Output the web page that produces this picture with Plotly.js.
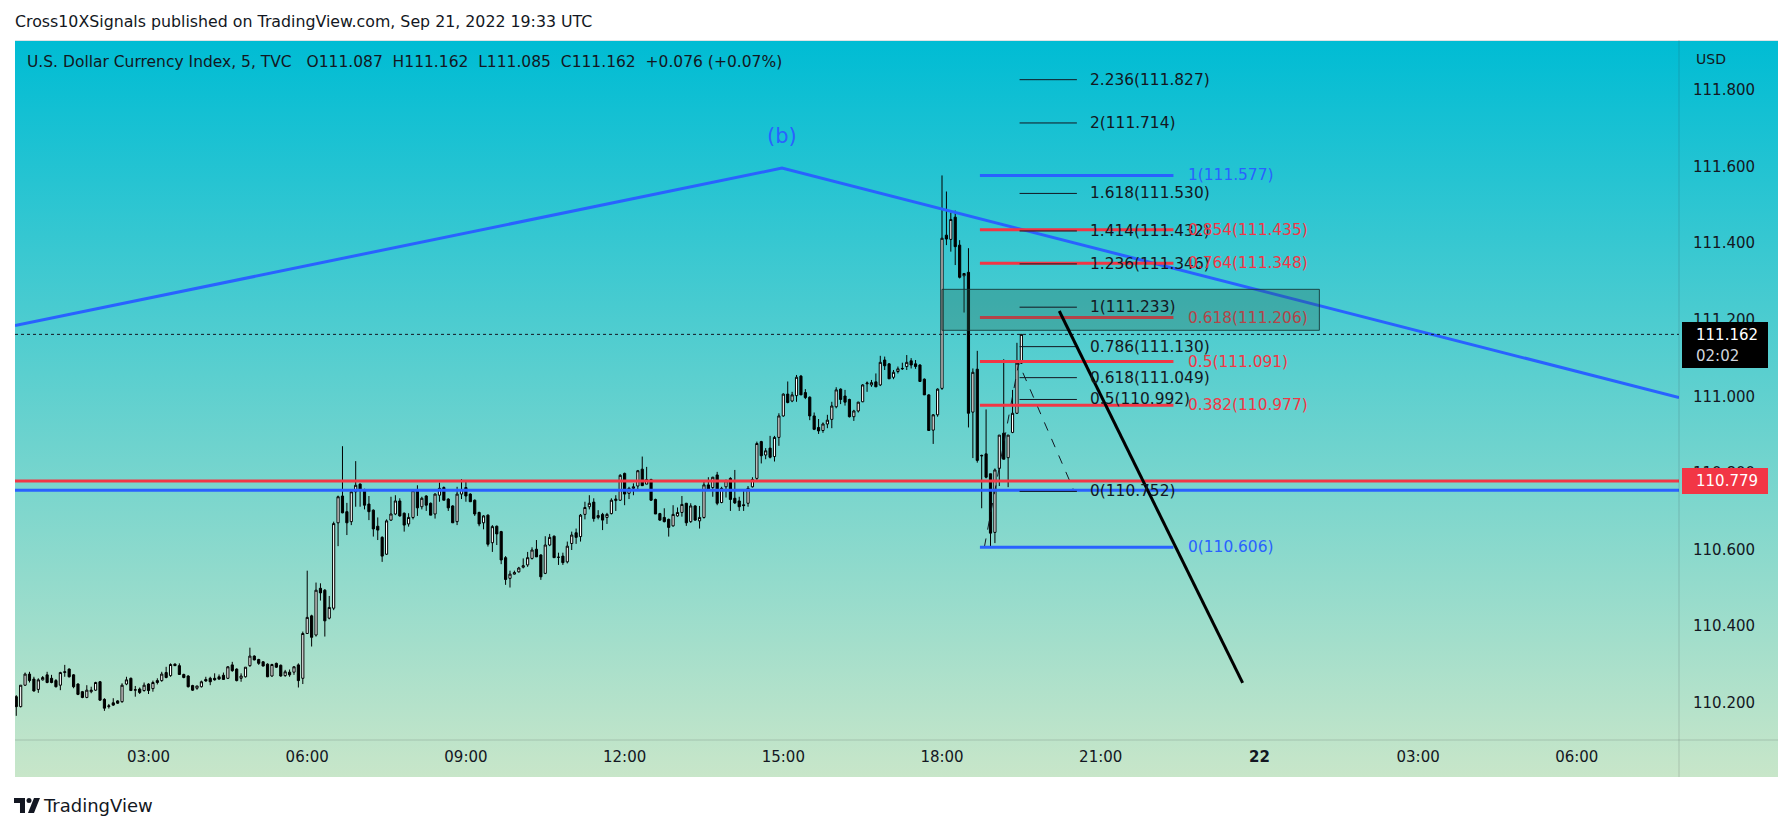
<!DOCTYPE html>
<html><head><meta charset="utf-8">
<script src="https://cdn.plot.ly/plotly-3.0.1.min.js"></script>
<style>
html,body{margin:0;padding:0;background:#fff;width:1791px;height:832px;overflow:hidden;}
#bg{position:absolute;left:15px;top:40px;width:1763px;height:737px;background:linear-gradient(to bottom,#00BCD4 0%,#C8E6C9 100%);border-top:1px solid #dfe3e6;box-sizing:border-box;}
#chart{position:absolute;left:0;top:0;width:1791px;height:832px;}
</style></head><body>
<div id="bg"></div><div id="chart"></div>
<script>
// ---------------- DATA ----------------
const open = [
110.216,110.190,110.246,110.275,110.262,110.235,110.260,110.273,110.264,110.258,
110.246,110.279,110.288,110.273,110.249,110.229,110.214,110.229,110.233,110.255,
110.209,110.190,110.200,110.205,110.203,110.249,110.264,110.233,110.236,110.232,
110.249,110.237,110.258,110.258,110.279,110.271,110.301,110.297,110.274,110.270,
110.245,110.238,110.242,110.261,110.264,110.264,110.268,110.272,110.264,110.299,
110.288,110.264,110.268,110.297,110.322,110.313,110.307,110.301,110.270,110.303,
110.298,110.271,110.280,110.280,110.299,110.264,
110.381,110.427,110.377,110.499,
110.494,110.421,110.447,110.670,110.740,110.699,110.673,110.751,110.771,110.757,
110.719,110.703,110.661,110.632,110.588,110.677,110.693,110.727,110.695,110.667,
110.684,110.757,110.712,110.740,110.721,110.693,110.742,110.762,110.732,110.714,
110.673,110.745,110.762,110.745,110.729,110.697,110.670,110.690,110.618,110.661,
110.647,110.579,110.525,110.536,110.542,110.554,110.560,110.577,110.601,110.586,
110.538,110.612,110.635,110.580,110.583,110.568,110.616,110.644,110.634,110.692,
110.712,110.724,110.684,110.692,110.684,110.694,110.728,110.729,110.799,110.747,
110.760,110.766,110.810,110.771,110.783,110.731,110.694,110.684,110.679,110.662,
110.688,110.697,110.721,110.673,110.714,110.675,110.684,110.769,110.762,110.795,
110.723,110.764,110.786,110.734,110.727,110.717,110.721,110.764,110.786,110.882,
110.847,110.865,110.843,110.893,110.949,111.006,110.988,111.002,111.053,111.010,
110.998,110.949,110.919,110.911,110.928,110.940,110.973,111.019,111.001,110.992,
110.947,110.962,110.986,111.033,111.030,111.038,111.030,111.095,111.085,111.050,
111.065,111.072,111.078,111.093,111.085,111.082,111.045,111.004,110.912,110.952,
111.021,111.421,111.410,111.468,111.395,111.315,111.324,110.959,111.071,110.846,
110.850,110.798,110.645,110.812,110.904,110.840,110.906,110.956,111.087];
const high = [
110.220,110.246,110.279,110.281,110.268,110.264,110.270,110.281,110.273,110.262,
110.281,110.299,110.290,110.275,110.251,110.231,110.246,110.242,110.255,110.257,
110.212,110.197,110.212,110.207,110.251,110.268,110.266,110.244,110.240,110.253,
110.251,110.258,110.264,110.281,110.294,110.303,110.303,110.303,110.276,110.272,
110.247,110.244,110.258,110.268,110.268,110.277,110.274,110.279,110.296,110.307,
110.290,110.277,110.293,110.344,110.324,110.315,110.309,110.303,110.302,110.305,
110.300,110.286,110.287,110.296,110.303,110.386,
110.545,110.430,110.514,110.512,
110.497,110.479,110.673,110.741,110.870,110.722,110.754,110.831,110.773,110.759,
110.740,110.705,110.684,110.635,110.679,110.738,110.742,110.734,110.697,110.695,
110.756,110.768,110.738,110.742,110.723,110.747,110.775,110.765,110.734,110.716,
110.764,110.784,110.780,110.747,110.731,110.699,110.690,110.692,110.664,110.663,
110.649,110.583,110.545,110.545,110.555,110.577,110.594,110.606,110.625,110.588,
110.635,110.641,110.637,110.592,110.592,110.621,110.647,110.655,110.693,110.725,
110.742,110.734,110.703,110.696,110.696,110.734,110.742,110.797,110.801,110.764,
110.773,110.808,110.843,110.816,110.785,110.733,110.696,110.708,110.681,110.716,
110.710,110.740,110.722,110.721,110.716,110.714,110.780,110.789,110.790,110.803,
110.764,110.783,110.789,110.808,110.738,110.754,110.766,110.789,110.882,110.884,
110.865,110.897,110.897,110.956,111.008,111.039,111.012,111.056,111.056,111.019,
111.000,110.958,110.941,110.932,110.952,110.986,111.024,111.021,111.017,110.994,
110.965,110.986,111.032,111.039,111.043,111.060,111.106,111.104,111.087,111.069,
111.078,111.088,111.108,111.100,111.095,111.084,111.047,111.006,110.954,111.021,
111.577,111.535,111.480,111.485,111.408,111.321,111.387,111.073,111.119,110.848,
110.966,110.798,110.812,110.899,111.097,110.899,111.017,111.140,111.162];
const low = [
110.166,110.188,110.244,110.253,110.229,110.226,110.258,110.251,110.251,110.240,
110.233,110.268,110.266,110.238,110.220,110.212,110.212,110.225,110.231,110.205,
110.179,110.185,110.192,110.197,110.200,110.246,110.231,110.216,110.223,110.229,
110.223,110.229,110.248,110.255,110.264,110.268,110.296,110.273,110.264,110.240,
110.231,110.234,110.240,110.255,110.246,110.258,110.260,110.260,110.262,110.281,
110.256,110.255,110.266,110.294,110.311,110.299,110.295,110.267,110.268,110.291,
110.268,110.268,110.268,110.273,110.240,110.249,
110.380,110.347,110.373,110.467,
110.373,110.418,110.442,110.609,110.695,110.638,110.664,110.712,110.712,110.705,
110.677,110.634,110.625,110.568,110.586,110.675,110.690,110.686,110.647,110.660,
110.679,110.688,110.705,110.701,110.690,110.681,110.725,110.729,110.701,110.670,
110.664,110.732,110.725,110.725,110.688,110.661,110.653,110.608,110.594,110.612,
110.562,110.508,110.501,110.535,110.540,110.551,110.555,110.574,110.581,110.521,
110.536,110.609,110.579,110.560,110.560,110.564,110.599,110.615,110.621,110.679,
110.705,110.673,110.679,110.651,110.667,110.692,110.701,110.727,110.716,110.732,
110.742,110.754,110.766,110.771,110.727,110.693,110.675,110.671,110.634,110.660,
110.686,110.686,110.662,110.670,110.675,110.655,110.681,110.755,110.738,110.716,
110.721,110.736,110.701,110.719,110.701,110.701,110.712,110.762,110.777,110.825,
110.836,110.838,110.830,110.871,110.947,110.982,110.985,110.986,111.004,110.993,
110.938,110.912,110.902,110.905,110.917,110.917,110.969,110.980,110.976,110.945,
110.936,110.958,110.985,111.012,111.025,111.025,111.027,111.069,111.046,111.045,
111.060,111.069,111.069,111.073,111.072,111.039,111.004,110.911,110.876,110.947,
111.017,111.395,111.378,111.343,111.308,111.219,110.919,110.839,110.827,110.708,
110.786,110.606,110.617,110.766,110.836,110.763,110.904,110.954,111.085];
const close = [
110.190,110.246,110.275,110.258,110.231,110.260,110.266,110.253,110.253,110.242,
110.279,110.281,110.268,110.242,110.222,110.214,110.233,110.233,110.253,110.207,
110.186,110.192,110.194,110.199,110.246,110.260,110.232,110.234,110.227,110.246,
110.232,110.253,110.253,110.275,110.266,110.300,110.297,110.274,110.266,110.242,
110.233,110.244,110.255,110.257,110.255,110.260,110.262,110.261,110.294,110.284,
110.258,110.270,110.293,110.322,110.312,110.303,110.296,110.268,110.300,110.293,
110.270,110.281,110.273,110.294,110.258,110.381,
110.423,110.371,110.494,110.487,
110.414,110.449,110.668,110.738,110.696,110.670,110.751,110.768,110.754,110.716,
110.699,110.654,110.651,110.583,110.675,110.693,110.727,110.688,110.664,110.684,
110.754,110.709,110.734,110.716,110.690,110.745,110.760,110.729,110.709,110.670,
110.745,110.757,110.740,110.725,110.693,110.667,110.688,110.614,110.660,110.641,
110.573,110.522,110.536,110.540,110.552,110.558,110.579,110.599,110.581,110.529,
110.612,110.632,110.579,110.580,110.566,110.609,110.638,110.632,110.690,110.710,
110.721,110.681,110.689,110.677,110.692,110.729,110.732,110.794,110.745,110.760,
110.764,110.806,110.767,110.783,110.729,110.693,110.677,110.673,110.658,110.692,
110.697,110.718,110.670,110.714,110.677,110.684,110.769,110.757,110.789,110.721,
110.760,110.780,110.731,110.722,110.712,110.715,110.760,110.783,110.877,110.845,
110.858,110.841,110.893,110.949,111.006,110.984,111.004,111.050,111.004,110.997,
110.949,110.914,110.910,110.928,110.938,110.975,111.017,110.992,110.985,110.947,
110.962,110.985,111.030,111.035,111.036,111.025,111.089,111.080,111.046,111.063,
111.072,111.073,111.089,111.082,111.078,111.039,111.004,110.911,110.952,111.019,
111.413,111.411,111.462,111.391,111.311,111.321,110.956,111.063,110.833,110.845,
110.789,110.643,110.808,110.899,110.836,110.899,110.956,111.087,111.162];

const firstBar = Date.UTC(2022, 8, 21, 0, 30);   // 5-minute bars
const barMinutes = 5;

const xTickVals = ['2022-09-21 03:00','2022-09-21 06:00','2022-09-21 09:00','2022-09-21 12:00','2022-09-21 15:00',
                   '2022-09-21 18:00','2022-09-21 21:00','2022-09-22 00:00','2022-09-22 03:00','2022-09-22 06:00'];
const xTickText = ['03:00','06:00','09:00','12:00','15:00','18:00','21:00','<b>22</b>','03:00','06:00'];
const yTickVals = [110.2,110.4,110.6,110.8,111.0,111.2,111.4,111.6,111.8];

const fibExtRatios = ['2.236','2','1.618','1.414','1.236','1','0.786','0.618','0.5','0'];
const fibExtPrices = [111.827,111.714,111.530,111.432,111.346,111.233,111.130,111.049,110.992,110.752];
const redFibRatios = ['0.854','0.764','0.618','0.5','0.382'];
const redFibPrices = [111.435,111.348,111.206,111.091,110.977];
const blueFibRatios = ['1','0'];
const blueFibPrices = [111.577,110.606];

const waveX = ['2022-09-21 00:28:34','2022-09-21 14:58:30','2022-09-22 07:55:55'];
const waveY = [111.185,111.596,110.997];
const fibPathX = ['2022-09-21 18:48','2022-09-21 19:27','2022-09-21 20:30'];
const fibPathY = [110.606,111.087,110.752];
const trendX = ['2022-09-21 20:13','2022-09-21 23:41'];
const trendY = [111.223,110.252];
const zoneX = ['2022-09-21 18:00','2022-09-22 01:08'];
const zoneY = [111.1726,111.2796];
const supportRed = 110.779;
const supportBlue = 110.755;
const lastPrice = 111.162;

const headerText = 'Cross10XSignals published on TradingView.com, Sep 21, 2022 19:33 UTC';
const legendText = 'U.S. Dollar Currency Index, 5, TVC\u00a0\u00a0\u00a0O111.087\u00a0\u00a0H111.162\u00a0\u00a0L111.085\u00a0\u00a0C111.162\u00a0\u00a0+0.076 (+0.07%)';

// ---------------- LAYOUT HELPERS ----------------
const W = 1791, H = 832, ML = 15, MR = 112, MT = 40, MB = 92;
const PW = W - ML - MR, PH = H - MT - MB;
const px = x => (x - ML) / PW;
const py = y => (H - MB - y) / PH;
const FONT = 'DejaVu Sans, sans-serif';
const TXT = '#131722';
const BLUE = '#2962FF', RED = '#F23645';
const xRange = ['2022-09-21 00:28:34', '2022-09-22 07:55:55'];

function fmt(ms) {
  const d = new Date(ms), p = n => String(n).padStart(2, '0');
  return d.getUTCFullYear() + '-' + p(d.getUTCMonth() + 1) + '-' + p(d.getUTCDate()) + ' ' + p(d.getUTCHours()) + ':' + p(d.getUTCMinutes());
}
const times = close.map((_, i) => fmt(firstBar + i * barMinutes * 60000));

// ---------------- TRACES ----------------
const data = [
  {type: 'candlestick', x: times, open: open, high: high, low: low, close: close,
   increasing: {line: {color: '#000000', width: 1}, fillcolor: '#ffffff'},
   decreasing: {line: {color: '#000000', width: 1}, fillcolor: '#000000'},
   whiskerwidth: 0, hoverinfo: 'skip', showlegend: false},
  {type: 'scatter', mode: 'lines', x: waveX, y: waveY, line: {color: BLUE, width: 3}, hoverinfo: 'skip', showlegend: false},
  {type: 'scatter', mode: 'lines', x: fibPathX, y: fibPathY, line: {color: '#131722', width: 1, dash: 'dash'}, hoverinfo: 'skip', showlegend: false}
];

// ---------------- SHAPES ----------------
const shapes = [];
const hline = (y, color, width, dash) => ({type: 'line', xref: 'x', yref: 'y', x0: xRange[0], x1: xRange[1], y0: y, y1: y,
  line: {color: color, width: width, dash: dash || 'solid'}, layer: 'above'});
shapes.push(hline(supportBlue, BLUE, 3));
shapes.push(hline(supportRed, RED, 3));
shapes.push(hline(lastPrice, '#131722', 1, 'dot'));

const fibLineX = ['2022-09-21 18:43', '2022-09-21 22:22:30'];
const fibExtLineX = ['2022-09-21 19:28', '2022-09-21 20:33'];
const fibExtLabelX = '2022-09-21 20:46';
const fibLabelX = '2022-09-21 22:37';

blueFibPrices.forEach(p => shapes.push({type: 'line', xref: 'x', yref: 'y', x0: fibLineX[0], x1: fibLineX[1], y0: p, y1: p, line: {color: BLUE, width: 3}, layer: 'above'}));
redFibPrices.forEach(p => shapes.push({type: 'line', xref: 'x', yref: 'y', x0: fibLineX[0], x1: fibLineX[1], y0: p, y1: p, line: {color: RED, width: 3}, layer: 'above'}));
shapes.push({type: 'rect', xref: 'x', yref: 'y', x0: zoneX[0], x1: zoneX[1], y0: zoneY[0], y1: zoneY[1],
  fillcolor: 'rgba(40,100,80,0.3)', line: {color: 'rgba(20,50,50,0.85)', width: 1}, layer: 'above'});
fibExtPrices.forEach(p => shapes.push({type: 'line', xref: 'x', yref: 'y', x0: fibExtLineX[0], x1: fibExtLineX[1], y0: p, y1: p, line: {color: '#131722', width: 1}, layer: 'above'}));
shapes.push({type: 'line', xref: 'x', yref: 'y', x0: trendX[0], x1: trendX[1], y0: trendY[0], y1: trendY[1], line: {color: '#000000', width: 3}, layer: 'above'});

// axis separators
shapes.push({type: 'line', xref: 'paper', yref: 'paper', x0: 1, x1: 1, y0: py(777), y1: 1, line: {color: 'rgba(42,46,57,0.18)', width: 1}, layer: 'above'});
shapes.push({type: 'line', xref: 'paper', yref: 'paper', x0: 0, x1: px(1778), y0: 0, y1: 0, line: {color: 'rgba(42,46,57,0.18)', width: 1}, layer: 'above'});
// price labels boxes
shapes.push({type: 'rect', xref: 'paper', yref: 'paper', x0: px(1682), x1: px(1768), y0: py(368), y1: py(322), fillcolor: '#000000', line: {width: 0}, layer: 'above'});
shapes.push({type: 'rect', xref: 'paper', yref: 'paper', x0: px(1682), x1: px(1768), y0: py(494), y1: py(468), fillcolor: RED, line: {width: 0}, layer: 'above'});
// TradingView logo
const pathPx = pts => 'M' + pts.map(p => px(p[0]).toFixed(5) + ',' + py(p[1]).toFixed(5)).join(' L') + ' Z';
shapes.push({type: 'path', xref: 'paper', yref: 'paper', path: pathPx([[14,798],[25,798],[25,813],[20,813],[20,803],[14,803]]), fillcolor: TXT, line: {width: 0}});
shapes.push({type: 'circle', xref: 'paper', yref: 'paper', x0: px(26.5), x1: px(31.5), y0: py(803), y1: py(798), fillcolor: TXT, line: {width: 0}});
shapes.push({type: 'path', xref: 'paper', yref: 'paper', path: pathPx([[34,798],[40,798],[34,813],[28,813]]), fillcolor: TXT, line: {width: 0}});

// ---------------- ANNOTATIONS ----------------
const ann = [];
const txt = (x, y, text, opts) => Object.assign({x: x, y: y, text: text, showarrow: false, xref: 'paper', yref: 'paper',
  xanchor: 'left', yanchor: 'middle', font: {family: FONT, size: 15, color: TXT}}, opts || {});
ann.push(txt(px(13), py(21), headerText, {font: {family: FONT, size: 15.8, color: TXT}}));
ann.push(txt(px(25), py(62), legendText, {font: {family: FONT, size: 15.5, color: TXT}}));
ann.push(txt(px(1694), py(59), 'USD', {font: {family: FONT, size: 14, color: TXT}}));
ann.push(txt(px(1694), py(335), lastPrice.toFixed(3), {font: {family: FONT, size: 15, color: '#ffffff'}}));
ann.push(txt(px(1694), py(356), '02:02', {font: {family: FONT, size: 15, color: '#d1d4dc'}}));
ann.push(txt(px(1694), py(481), supportRed.toFixed(3), {font: {family: FONT, size: 15, color: '#ffffff'}}));
ann.push(txt(px(41), py(805), 'TradingView', {font: {family: FONT, size: 18, color: TXT}}));
ann.push({x: waveX[1], y: 111.680, xref: 'x', yref: 'y', text: '(b)', showarrow: false, xanchor: 'center', yanchor: 'middle',
  font: {family: FONT, size: 21, color: BLUE}});
fibExtPrices.forEach((p, i) => ann.push({x: fibExtLabelX, y: p, xref: 'x', yref: 'y', showarrow: false, xanchor: 'left', yanchor: 'middle',
  text: fibExtRatios[i] + '(' + p.toFixed(3) + ')', font: {family: FONT, size: 15.4, color: TXT}}));
redFibPrices.forEach((p, i) => ann.push({x: fibLabelX, y: p, xref: 'x', yref: 'y', showarrow: false, xanchor: 'left', yanchor: 'middle',
  text: redFibRatios[i] + '(' + p.toFixed(3) + ')',
  font: {family: FONT, size: 15.4, color: (p > zoneY[0] && p < zoneY[1]) ? 'rgb(181,68,72)' : RED}}));
blueFibPrices.forEach((p, i) => ann.push({x: fibLabelX, y: p, xref: 'x', yref: 'y', showarrow: false, xanchor: 'left', yanchor: 'middle',
  text: blueFibRatios[i] + '(' + p.toFixed(3) + ')', font: {family: FONT, size: 15.4, color: BLUE}}));

const layout = {
  width: W, height: H,
  margin: {l: ML, r: MR, t: MT, b: MB, pad: 0},
  paper_bgcolor: 'rgba(0,0,0,0)', plot_bgcolor: 'rgba(0,0,0,0)',
  showlegend: false, hovermode: false,
  xaxis: {type: 'date', range: xRange, tickvals: xTickVals, ticktext: xTickText,
    tickfont: {family: FONT, size: 15, color: TXT}, showgrid: false, zeroline: false, showline: false,
    ticks: '', ticklabelstandoff: 6, rangeslider: {visible: false}, fixedrange: true},
  yaxis: {side: 'right', range: [110.1029, 111.9306], tickvals: yTickVals, ticktext: yTickVals.map(v => v.toFixed(3)),
    tickfont: {family: FONT, size: 15, color: TXT}, showgrid: false, zeroline: false, showline: false,
    ticks: '', ticklabelstandoff: 13, fixedrange: true},
  shapes: shapes,
  annotations: ann
};

Plotly.newPlot('chart', data, layout, {staticPlot: true, displayModeBar: false});
</script></body></html>
